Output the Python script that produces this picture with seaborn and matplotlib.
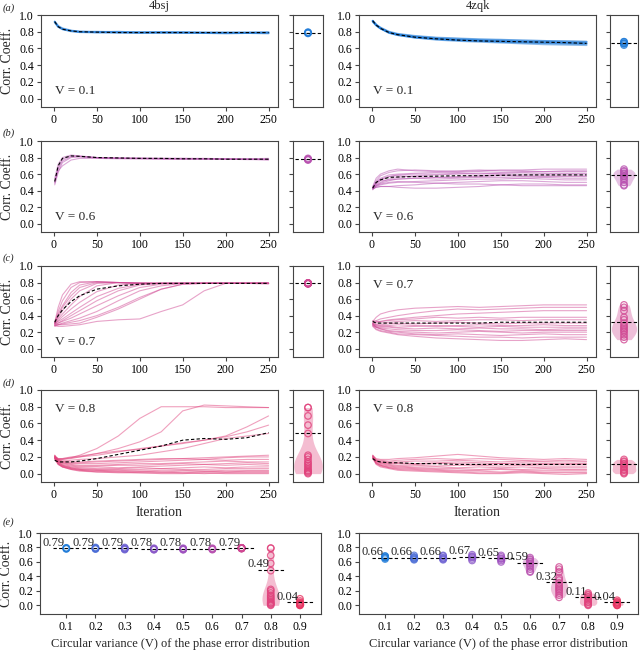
import matplotlib
matplotlib.use("Agg")
import matplotlib.pyplot as plt
import pandas as pd
import seaborn as sns

# iterations at which each run was sampled
ITER = [1, 5, 10, 20, 30, 50, 75, 100, 125, 150, 175, 200, 225, 250]
V_LABELS = ["0.1", "0.2", "0.3", "0.4", "0.5", "0.6", "0.7", "0.8", "0.9"]
V_COLORS = ["#1f7bd8", "#4a6cd6", "#6b5fd2", "#8a58c8", "#9e50bf",
            "#b851b0", "#d04893", "#e0427c", "#e83462"]

# ---- 4bsj runs ----
bsj_v01 = [
    [0.92, 0.86, 0.83, 0.81, 0.80, 0.795, 0.79, 0.79, 0.79, 0.79, 0.785, 0.785, 0.785, 0.785],
    [0.92, 0.87, 0.84, 0.815, 0.80, 0.80, 0.795, 0.795, 0.79, 0.795, 0.79, 0.79, 0.79, 0.79],
    [0.91, 0.86, 0.83, 0.805, 0.795, 0.79, 0.79, 0.785, 0.79, 0.785, 0.785, 0.78, 0.785, 0.78],
    [0.92, 0.86, 0.835, 0.81, 0.80, 0.795, 0.80, 0.79, 0.795, 0.79, 0.79, 0.79, 0.79, 0.795],
]
bsj_v01_best = [0.92, 0.86, 0.83, 0.81, 0.80, 0.795, 0.79, 0.79, 0.79, 0.79, 0.79, 0.79, 0.79, 0.79]

bsj_v06 = [
    [0.50, 0.68, 0.78, 0.82, 0.815, 0.80, 0.795, 0.79, 0.79, 0.79, 0.785, 0.785, 0.78, 0.78],
    [0.47, 0.62, 0.74, 0.80, 0.81, 0.80, 0.79, 0.79, 0.785, 0.785, 0.785, 0.78, 0.78, 0.77],
    [0.55, 0.72, 0.80, 0.83, 0.82, 0.80, 0.795, 0.795, 0.79, 0.79, 0.79, 0.785, 0.785, 0.79],
    [0.52, 0.66, 0.76, 0.81, 0.81, 0.795, 0.79, 0.785, 0.785, 0.78, 0.78, 0.78, 0.775, 0.775],
    [0.49, 0.64, 0.70, 0.77, 0.79, 0.79, 0.785, 0.785, 0.78, 0.78, 0.78, 0.78, 0.78, 0.78],
]
bsj_v06_best = [0.51, 0.70, 0.79, 0.82, 0.815, 0.80, 0.795, 0.79, 0.79, 0.785, 0.785, 0.78, 0.78, 0.78]

bsj_v07 = [
    [0.32, 0.50, 0.65, 0.78, 0.81, 0.81, 0.80, 0.795, 0.79, 0.79, 0.79, 0.79, 0.79, 0.79],
    [0.30, 0.45, 0.58, 0.74, 0.80, 0.81, 0.80, 0.795, 0.79, 0.79, 0.79, 0.79, 0.79, 0.785],
    [0.33, 0.42, 0.52, 0.68, 0.77, 0.81, 0.80, 0.79, 0.79, 0.79, 0.79, 0.79, 0.79, 0.795],
    [0.31, 0.38, 0.46, 0.60, 0.70, 0.79, 0.80, 0.79, 0.79, 0.79, 0.79, 0.79, 0.79, 0.79],
    [0.30, 0.36, 0.42, 0.53, 0.63, 0.76, 0.80, 0.79, 0.79, 0.79, 0.79, 0.79, 0.79, 0.79],
    [0.29, 0.34, 0.39, 0.48, 0.56, 0.69, 0.77, 0.79, 0.79, 0.79, 0.79, 0.79, 0.79, 0.785],
    [0.31, 0.33, 0.36, 0.43, 0.50, 0.63, 0.73, 0.78, 0.79, 0.79, 0.79, 0.79, 0.79, 0.79],
    [0.28, 0.31, 0.34, 0.40, 0.46, 0.58, 0.70, 0.77, 0.79, 0.79, 0.79, 0.79, 0.79, 0.79],
    [0.30, 0.31, 0.33, 0.37, 0.42, 0.52, 0.64, 0.74, 0.78, 0.79, 0.79, 0.79, 0.79, 0.795],
    [0.27, 0.29, 0.31, 0.34, 0.37, 0.45, 0.58, 0.70, 0.76, 0.79, 0.79, 0.79, 0.79, 0.79],
    [0.28, 0.29, 0.30, 0.32, 0.34, 0.40, 0.50, 0.62, 0.72, 0.78, 0.79, 0.79, 0.79, 0.79],
    [0.29, 0.29, 0.29, 0.30, 0.31, 0.38, 0.48, 0.60, 0.72, 0.78, 0.79, 0.79, 0.79, 0.79],
    [0.28, 0.27, 0.27, 0.28, 0.29, 0.33, 0.35, 0.36, 0.45, 0.53, 0.70, 0.79, 0.79, 0.79],
    [0.31, 0.40, 0.50, 0.64, 0.74, 0.80, 0.80, 0.79, 0.79, 0.79, 0.79, 0.79, 0.79, 0.79],
]
bsj_v07_best = [0.32, 0.40, 0.47, 0.57, 0.64, 0.72, 0.76, 0.78, 0.79, 0.79, 0.79, 0.79, 0.79, 0.79]

bsj_v08 = [
    [0.20, 0.17, 0.17, 0.19, 0.22, 0.30, 0.45, 0.66, 0.80, 0.80, 0.80, 0.79, 0.79, 0.79],
    [0.21, 0.18, 0.18, 0.19, 0.20, 0.24, 0.30, 0.38, 0.50, 0.75, 0.82, 0.81, 0.80, 0.79],
    [0.19, 0.17, 0.17, 0.18, 0.20, 0.22, 0.26, 0.30, 0.33, 0.36, 0.40, 0.45, 0.56, 0.69],
    [0.20, 0.18, 0.18, 0.20, 0.21, 0.24, 0.27, 0.29, 0.33, 0.37, 0.40, 0.44, 0.50, 0.58],
    [0.18, 0.16, 0.15, 0.16, 0.17, 0.18, 0.20, 0.22, 0.26, 0.30, 0.36, 0.42, 0.45, 0.48],
    [0.22, 0.17, 0.15, 0.14, 0.14, 0.15, 0.16, 0.17, 0.18, 0.18, 0.19, 0.20, 0.21, 0.22],
    [0.20, 0.16, 0.14, 0.13, 0.13, 0.14, 0.15, 0.16, 0.17, 0.18, 0.17, 0.19, 0.20, 0.20],
    [0.19, 0.15, 0.13, 0.12, 0.12, 0.12, 0.13, 0.14, 0.15, 0.16, 0.17, 0.16, 0.17, 0.17],
    [0.21, 0.15, 0.13, 0.11, 0.10, 0.10, 0.11, 0.12, 0.12, 0.13, 0.14, 0.15, 0.14, 0.14],
    [0.18, 0.14, 0.12, 0.10, 0.09, 0.09, 0.10, 0.10, 0.11, 0.12, 0.11, 0.12, 0.13, 0.12],
    [0.20, 0.14, 0.11, 0.09, 0.08, 0.08, 0.07, 0.08, 0.09, 0.10, 0.11, 0.10, 0.11, 0.10],
    [0.19, 0.13, 0.10, 0.08, 0.07, 0.06, 0.06, 0.07, 0.06, 0.07, 0.08, 0.07, 0.08, 0.08],
    [0.22, 0.14, 0.10, 0.07, 0.06, 0.05, 0.05, 0.05, 0.06, 0.05, 0.05, 0.06, 0.06, 0.06],
    [0.18, 0.12, 0.09, 0.07, 0.05, 0.04, 0.04, 0.03, 0.04, 0.04, 0.03, 0.04, 0.04, 0.04],
    [0.20, 0.12, 0.09, 0.06, 0.05, 0.04, 0.03, 0.03, 0.02, 0.03, 0.03, 0.02, 0.03, 0.03],
    [0.17, 0.11, 0.08, 0.06, 0.04, 0.03, 0.02, 0.02, 0.02, 0.01, 0.02, 0.02, 0.02, 0.02],
    [0.19, 0.11, 0.08, 0.05, 0.04, 0.02, 0.02, 0.01, 0.01, 0.01, 0.00, 0.01, 0.01, 0.01],
    [0.21, 0.12, 0.08, 0.05, 0.03, 0.02, 0.01, 0.01, 0.00, 0.00, 0.01, 0.00, 0.00, 0.00],
]
bsj_v08_best = [0.16, 0.14, 0.14, 0.14, 0.15, 0.18, 0.23, 0.28, 0.33, 0.40, 0.42, 0.41, 0.43, 0.49]

# ---- 4zqk runs ----
zqk_v01 = [
    [0.93, 0.88, 0.84, 0.79, 0.765, 0.735, 0.715, 0.70, 0.69, 0.685, 0.68, 0.675, 0.67, 0.665],
    [0.93, 0.88, 0.845, 0.795, 0.77, 0.745, 0.725, 0.715, 0.705, 0.70, 0.695, 0.69, 0.685, 0.68],
    [0.92, 0.875, 0.84, 0.785, 0.76, 0.73, 0.705, 0.69, 0.68, 0.67, 0.66, 0.65, 0.645, 0.64],
    [0.93, 0.885, 0.85, 0.80, 0.775, 0.75, 0.73, 0.72, 0.71, 0.705, 0.695, 0.69, 0.685, 0.68],
    [0.93, 0.88, 0.84, 0.79, 0.765, 0.735, 0.715, 0.70, 0.69, 0.68, 0.67, 0.665, 0.66, 0.655],
    [0.92, 0.88, 0.84, 0.79, 0.76, 0.73, 0.71, 0.70, 0.695, 0.685, 0.68, 0.67, 0.665, 0.66],
]
zqk_v01_best = [0.93, 0.88, 0.84, 0.79, 0.765, 0.735, 0.715, 0.70, 0.69, 0.685, 0.68, 0.675, 0.67, 0.66]

zqk_v06 = [
    [0.44, 0.52, 0.58, 0.62, 0.64, 0.65, 0.64, 0.63, 0.64, 0.65, 0.65, 0.66, 0.66, 0.66],
    [0.45, 0.55, 0.60, 0.64, 0.66, 0.64, 0.63, 0.64, 0.65, 0.64, 0.64, 0.63, 0.64, 0.64],
    [0.43, 0.50, 0.55, 0.59, 0.60, 0.61, 0.62, 0.62, 0.63, 0.62, 0.63, 0.63, 0.63, 0.63],
    [0.44, 0.48, 0.53, 0.57, 0.59, 0.60, 0.60, 0.61, 0.60, 0.61, 0.62, 0.61, 0.61, 0.61],
    [0.42, 0.47, 0.50, 0.54, 0.56, 0.58, 0.59, 0.60, 0.61, 0.60, 0.60, 0.60, 0.60, 0.60],
    [0.43, 0.50, 0.54, 0.57, 0.58, 0.57, 0.56, 0.57, 0.58, 0.59, 0.58, 0.58, 0.58, 0.58],
    [0.41, 0.46, 0.49, 0.52, 0.54, 0.55, 0.56, 0.56, 0.57, 0.58, 0.57, 0.57, 0.57, 0.57],
    [0.44, 0.49, 0.52, 0.53, 0.54, 0.55, 0.54, 0.55, 0.56, 0.56, 0.55, 0.56, 0.55, 0.55],
    [0.42, 0.45, 0.47, 0.49, 0.50, 0.51, 0.52, 0.53, 0.54, 0.54, 0.55, 0.54, 0.53, 0.53],
    [0.43, 0.44, 0.45, 0.45, 0.46, 0.47, 0.49, 0.50, 0.51, 0.52, 0.52, 0.51, 0.50, 0.50],
    [0.42, 0.44, 0.45, 0.45, 0.44, 0.43, 0.43, 0.44, 0.45, 0.47, 0.48, 0.48, 0.47, 0.47],
    [0.43, 0.46, 0.48, 0.50, 0.51, 0.50, 0.49, 0.48, 0.48, 0.47, 0.46, 0.46, 0.46, 0.46],
]
zqk_v06_best = [0.43, 0.50, 0.53, 0.56, 0.565, 0.57, 0.575, 0.58, 0.58, 0.585, 0.59, 0.59, 0.59, 0.59]

zqk_v07 = [
    [0.33, 0.38, 0.42, 0.45, 0.47, 0.49, 0.50, 0.51, 0.50, 0.51, 0.52, 0.53, 0.53, 0.53],
    [0.31, 0.34, 0.36, 0.38, 0.40, 0.43, 0.46, 0.48, 0.47, 0.48, 0.49, 0.50, 0.50, 0.50],
    [0.30, 0.32, 0.33, 0.35, 0.36, 0.38, 0.40, 0.42, 0.43, 0.44, 0.45, 0.46, 0.46, 0.46],
    [0.34, 0.33, 0.33, 0.34, 0.35, 0.36, 0.38, 0.37, 0.38, 0.37, 0.38, 0.38, 0.38, 0.38],
    [0.32, 0.31, 0.31, 0.32, 0.33, 0.34, 0.33, 0.34, 0.35, 0.35, 0.34, 0.35, 0.35, 0.35],
    [0.30, 0.29, 0.29, 0.30, 0.31, 0.30, 0.31, 0.32, 0.31, 0.30, 0.31, 0.31, 0.31, 0.31],
    [0.31, 0.29, 0.28, 0.28, 0.29, 0.28, 0.27, 0.28, 0.29, 0.28, 0.28, 0.29, 0.28, 0.28],
    [0.29, 0.28, 0.27, 0.27, 0.26, 0.27, 0.28, 0.27, 0.26, 0.27, 0.26, 0.26, 0.26, 0.26],
    [0.30, 0.27, 0.26, 0.26, 0.25, 0.24, 0.25, 0.24, 0.25, 0.24, 0.24, 0.23, 0.24, 0.24],
    [0.28, 0.26, 0.25, 0.24, 0.23, 0.22, 0.22, 0.23, 0.22, 0.21, 0.22, 0.22, 0.22, 0.22],
    [0.29, 0.26, 0.24, 0.22, 0.21, 0.20, 0.19, 0.20, 0.21, 0.20, 0.19, 0.20, 0.20, 0.20],
    [0.30, 0.26, 0.24, 0.21, 0.20, 0.18, 0.17, 0.18, 0.17, 0.16, 0.17, 0.18, 0.17, 0.17],
    [0.28, 0.24, 0.22, 0.20, 0.18, 0.17, 0.16, 0.15, 0.14, 0.14, 0.13, 0.14, 0.14, 0.14],
    [0.27, 0.23, 0.21, 0.19, 0.17, 0.15, 0.13, 0.12, 0.11, 0.10, 0.10, 0.11, 0.12, 0.11],
]
zqk_v07_best = [0.33, 0.31, 0.31, 0.31, 0.31, 0.31, 0.31, 0.31, 0.31, 0.32, 0.32, 0.32, 0.32, 0.32]

zqk_v08 = [
    [0.22, 0.18, 0.17, 0.17, 0.18, 0.19, 0.21, 0.23, 0.21, 0.19, 0.18, 0.17, 0.18, 0.17],
    [0.21, 0.17, 0.16, 0.15, 0.16, 0.17, 0.18, 0.17, 0.18, 0.17, 0.16, 0.15, 0.16, 0.15],
    [0.20, 0.16, 0.15, 0.14, 0.14, 0.15, 0.15, 0.16, 0.15, 0.14, 0.15, 0.14, 0.14, 0.14],
    [0.22, 0.16, 0.14, 0.13, 0.13, 0.12, 0.13, 0.14, 0.13, 0.12, 0.13, 0.12, 0.12, 0.12],
    [0.19, 0.15, 0.13, 0.12, 0.12, 0.11, 0.12, 0.12, 0.11, 0.12, 0.11, 0.11, 0.11, 0.11],
    [0.21, 0.15, 0.13, 0.11, 0.10, 0.10, 0.09, 0.10, 0.10, 0.09, 0.10, 0.09, 0.09, 0.09],
    [0.20, 0.14, 0.12, 0.10, 0.09, 0.08, 0.08, 0.07, 0.08, 0.07, 0.08, 0.07, 0.07, 0.07],
    [0.18, 0.13, 0.11, 0.09, 0.08, 0.07, 0.06, 0.06, 0.05, 0.06, 0.05, 0.06, 0.05, 0.05],
    [0.20, 0.13, 0.10, 0.08, 0.07, 0.06, 0.05, 0.04, 0.04, 0.05, 0.04, 0.04, 0.04, 0.04],
    [0.19, 0.12, 0.10, 0.07, 0.06, 0.05, 0.04, 0.03, 0.03, 0.02, 0.03, 0.02, 0.02, 0.02],
    [0.21, 0.12, 0.09, 0.07, 0.05, 0.04, 0.03, 0.02, 0.01, 0.01, 0.02, 0.01, 0.01, 0.01],
    [0.18, 0.11, 0.08, 0.06, 0.04, 0.03, 0.02, 0.01, 0.00, 0.00, 0.01, 0.00, -0.01, 0.00],
]
zqk_v08_best = [0.18, 0.15, 0.14, 0.13, 0.13, 0.12, 0.12, 0.11, 0.11, 0.11, 0.11, 0.11, 0.11, 0.11]

# ---- final coefficients for the V values without shown runs ----
bsj_final_other = {
    "0.2": [0.80, 0.79, 0.79, 0.78, 0.78],
    "0.3": [0.80, 0.79, 0.78, 0.78, 0.77],
    "0.4": [0.79, 0.78, 0.78, 0.77, 0.77],
    "0.5": [0.79, 0.78, 0.78, 0.77, 0.77],
    "0.9": [0.09, 0.06, 0.04, 0.03, 0.02, 0.01, 0.01, 0.00, 0.00],
}
bsj_best_other = {"0.2": 0.79, "0.3": 0.79, "0.4": 0.78, "0.5": 0.78, "0.9": 0.04}
zqk_final_other = {
    "0.2": [0.69, 0.67, 0.66, 0.65, 0.64, 0.63],
    "0.3": [0.69, 0.68, 0.66, 0.65, 0.64, 0.63],
    "0.4": [0.70, 0.68, 0.67, 0.66, 0.64, 0.62],
    "0.5": [0.69, 0.67, 0.65, 0.64, 0.62, 0.60],
    "0.9": [0.07, 0.05, 0.04, 0.03, 0.02, 0.01, 0.00, 0.00],
}
zqk_best_other = {"0.2": 0.66, "0.3": 0.66, "0.4": 0.67, "0.5": 0.65, "0.9": 0.04}

# panels: (V label, runs, best run, position of "V = .." text)
BSJ_PANELS = [("0.1", bsj_v01, bsj_v01_best, "low"), ("0.6", bsj_v06, bsj_v06_best, "low"),
              ("0.7", bsj_v07, bsj_v07_best, "low"), ("0.8", bsj_v08, bsj_v08_best, "high")]
ZQK_PANELS = [("0.1", zqk_v01, zqk_v01_best, "low"), ("0.6", zqk_v06, zqk_v06_best, "low"),
              ("0.7", zqk_v07, zqk_v07_best, "high"), ("0.8", zqk_v08, zqk_v08_best, "high")]
BSJ_SIDE_W = [0.3, 0.3, 0.3, 0.95]
ZQK_SIDE_W = [0.35, 0.8, 0.9, 0.85]
BSJ_E_W = [0.25, 0.25, 0.25, 0.25, 0.25, 0.25, 0.3, 0.6, 0.3]
ZQK_E_W = [0.3, 0.3, 0.3, 0.35, 0.35, 0.55, 0.6, 0.6, 0.4]

sns.set_theme(style="ticks")
plt.rcParams["font.family"] = ["Liberation Serif", "DejaVu Serif"]
plt.rcParams["axes.edgecolor"] = "#444444"
plt.rcParams["axes.linewidth"] = 0.8
plt.rcParams["xtick.color"] = "#444444"
plt.rcParams["ytick.color"] = "#444444"
plt.rcParams["xtick.labelcolor"] = "black"
plt.rcParams["ytick.labelcolor"] = "black"
plt.rcParams["xtick.labelsize"] = 8.5
plt.rcParams["ytick.labelsize"] = 8.5

W, H = 640, 652
fig = plt.figure(figsize=(W / 100, H / 100), dpi=100)


def box(x0, y0, x1, y1):
    return [x0 / W, 1 - y1 / H, (x1 - x0) / W, (y1 - y0) / H]


def runs_frame(runs):
    rows = []
    for k, run in enumerate(runs):
        for it, cc in zip(ITER, run):
            rows.append({"run": k, "iteration": it, "cc": cc})
    return pd.DataFrame(rows)


def soften(ax, start, alpha):
    for coll in ax.collections[start:]:
        coll.set_alpha(alpha)


ROWS = [(15, 107), (141, 232), (266, 357), (390, 482)]
COLS = [((41, 278), (293, 323), BSJ_PANELS, BSJ_SIDE_W, "4bsj"),
        ((359, 596), (610, 638), ZQK_PANELS, ZQK_SIDE_W, "4zqk")]

for ci, ((mx0, mx1), (sx0, sx1), panels, side_w, title) in enumerate(COLS):
    for ri, ((y0, y1), (v, runs, best, vpos)) in enumerate(zip(ROWS, panels)):
        color = V_COLORS[V_LABELS.index(v)]
        ax = fig.add_axes(box(mx0, y0, mx1, y1))
        sns.lineplot(data=runs_frame(runs), x="iteration", y="cc", units="run",
                     estimator=None, color=color, alpha=0.5,
                     lw=1.4 if v == "0.1" else 0.8, ax=ax)
        sns.lineplot(x=ITER, y=best, color="black", lw=0.8, ls=(0, (3, 2)), ax=ax)
        ax.set_xlim(-15, 261)
        ax.set_ylim(-0.1, 1.0)
        ax.set_xticks([0, 50, 100, 150, 200, 250])
        ax.set_yticks([0.0, 0.2, 0.4, 0.6, 0.8, 1.0])
        ax.set_ylabel("Corr. Coeff." if ci == 0 else "", fontsize=10)
        ax.set_xlabel("Iteration" if ri == 3 else "", fontsize=10)
        ax.tick_params(length=3, width=0.8, pad=2)
        ax.text(0.06, 0.17 if vpos == "low" else 0.79, f"V = {v}",
                transform=ax.transAxes, fontsize=9.5, va="center")
        if ri == 0:
            ax.set_title(title, fontsize=9, pad=4)

        # side panel: final coefficients of every run
        finals = [run[-1] for run in runs]
        axs = fig.add_axes(box(sx0, y0, sx1, y1))
        n0 = len(axs.collections)
        sns.violinplot(y=finals, color=color, inner=None, cut=0, linewidth=0,
                       width=side_w[ri], saturation=1, ax=axs)
        soften(axs, n0, 0.35)
        axs.scatter([0] * len(finals), finals, s=22, facecolors="none",
                    edgecolors=color, linewidths=0.9, alpha=0.8, zorder=3)
        axs.plot([-0.45, 0.45], [best[-1], best[-1]], color="black", lw=0.8,
                 ls=(0, (3, 2)), zorder=4)
        axs.set_xlim(-0.5, 0.5)
        axs.set_ylim(-0.1, 1.0)
        axs.set_yticks([0.0, 0.2, 0.4, 0.6, 0.8, 1.0])
        axs.set_yticklabels([])
        axs.set_xticks([])
        axs.set_xlabel("")
        axs.set_ylabel("")
        axs.tick_params(length=3, width=0.8)

# ---- row (e): final coefficient vs circular variance ----
E_COLS = [((40, 321), BSJ_PANELS, bsj_final_other, bsj_best_other, BSJ_E_W),
          ((359, 638), ZQK_PANELS, zqk_final_other, zqk_best_other, ZQK_E_W)]
for ci, ((x0, x1), panels, final_other, best_other, e_w) in enumerate(E_COLS):
    finals = dict(final_other)
    bests = dict(best_other)
    for v, runs, best, _ in panels:
        finals[v] = [run[-1] for run in runs]
        bests[v] = best[-1]
    ax = fig.add_axes(box(x0, 533, x1, 614))
    for i, v in enumerate(V_LABELS):
        n0 = len(ax.collections)
        sns.violinplot(x=[v] * len(finals[v]), y=finals[v], order=V_LABELS,
                       color=V_COLORS[i], inner=None, cut=0, linewidth=0,
                       width=e_w[i], saturation=1, ax=ax)
        soften(ax, n0, 0.35)
        ax.scatter([i] * len(finals[v]), finals[v], s=22, facecolors="none",
                   edgecolors=V_COLORS[i], linewidths=0.9, alpha=0.8, zorder=3)
        ax.plot([i - 0.45, i + 0.45], [bests[v], bests[v]], color="black",
                lw=0.8, ls=(0, (3, 2)), zorder=4)
        ax.text(i - 0.42, bests[v] + 0.075, f"{bests[v]:.2f}", fontsize=9,
                ha="center", va="center", zorder=5)
    ax.set_xlim(-0.9, 8.72)
    ax.set_ylim(-0.12, 1.0)
    ax.set_yticks([0.0, 0.2, 0.4, 0.6, 0.8, 1.0])
    ax.set_ylabel("Corr. Coeff." if ci == 0 else "", fontsize=10)
    ax.set_xlabel("Circular variance (V) of the phase error distribution", fontsize=9)
    ax.tick_params(length=3, width=0.8, pad=2)

for label, ypx in zip(["(a)", "(b)", "(c)", "(d)", "(e)"], [8, 133, 258, 383, 522]):
    fig.text(3 / W, 1 - ypx / H, label, fontsize=7.5, style="italic", va="center")

fig.savefig("out.png", dpi=100)
